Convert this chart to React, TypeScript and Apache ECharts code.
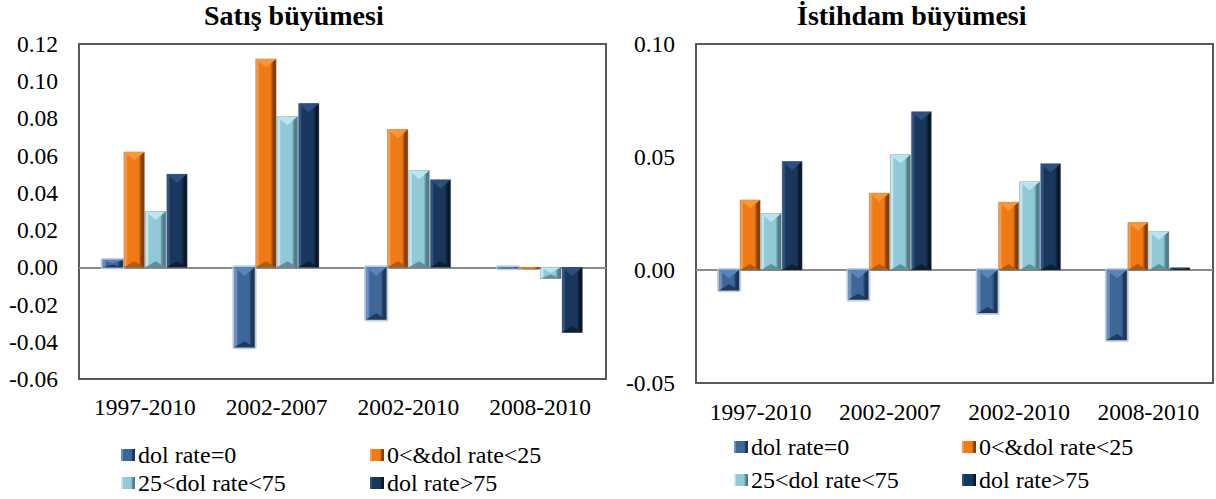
import React, { useEffect, useRef } from "react";
import * as echarts from "echarts";

// Period categories shared by both panels
const periods = ["1997-2010", "2002-2007", "2002-2010", "2008-2010"];

// Legend / series names
const groupNames = ["dol rate=0", "0<&dol rate<25", "25<dol rate<75", "dol rate>75"];

// Satış büyümesi (sales growth)
const salesRate0 = [0.004, -0.043, -0.028, -0.0005];
const salesRate0to25 = [0.062, 0.112, 0.074, -0.001];
const salesRate25to75 = [0.03, 0.081, 0.052, -0.006];
const salesRateOver75 = [0.05, 0.088, 0.047, -0.035];

// İstihdam büyümesi (employment growth)
const empRate0 = [-0.009, -0.013, -0.019, -0.031];
const empRate0to25 = [0.031, 0.034, 0.03, 0.021];
const empRate25to75 = [0.025, 0.051, 0.039, 0.017];
const empRateOver75 = [0.048, 0.07, 0.047, 0.001];

// Axis tick settings
const salesTicks = { min: -0.06, max: 0.12, interval: 0.02 };
const empTicks = { min: -0.05, max: 0.1, interval: 0.05 };

const FONT = "Liberation Serif, Times New Roman, serif";

// Bevel palette per series slot
const palette = [
  { base: "#3D6699", light: "#6C93C6", dark: "#1C3558", top: "#5A83B8", bottom: "#1F3A5E", glow: "rgba(176,202,234,0.85)" },
  { base: "#F07A14", light: "#FA9A45", dark: "#843F08", top: "#F8963A", bottom: "#B35A0C", glow: "" },
  { base: "#92C9D7", light: "#C4E9F2", dark: "#4E7E8B", top: "#B8E5EF", bottom: "#5E8F9B", glow: "" },
  { base: "#19375D", light: "#2F5383", dark: "#08182B", top: "#2D4F7D", bottom: "#0C1F36", glow: "" },
];

const GROUP_RATIO = 0.65;

function sideGradient(c: (typeof palette)[number]) {
  return new echarts.graphic.LinearGradient(0, 0, 1, 0, [
    { offset: 0, color: c.light },
    { offset: 0.1, color: c.light },
    { offset: 0.18, color: c.base },
    { offset: 0.72, color: c.base },
    { offset: 0.86, color: c.dark },
    { offset: 1, color: c.dark },
  ]);
}

function renderBevelBar(params: any, api: any) {
  const k = params.seriesIndex % 4;
  const c = palette[k];
  const cat = api.value(0);
  const val = api.value(1);
  const band = api.size([1, 0])[0];
  const slot = (band * GROUP_RATIO) / 4;
  const zero = api.coord([cat, 0]);
  const end = api.coord([cat, val]);
  const x = zero[0] - (slot * 4) / 2 + k * slot + 0.5;
  const w = slot - 1;
  const y = Math.min(zero[1], end[1]);
  const h = Math.max(Math.abs(end[1] - zero[1]), 1);
  const bevTop = Math.min(w * 0.42, h * 0.5);
  const bevBot = Math.min(w * 0.3, h * 0.35);

  const children: any[] = [];
  if (c.glow) {
    children.push({
      type: "rect",
      shape: { x: x - 2, y: y - 2, width: w + 4, height: h + 4, r: 2 },
      style: { fill: c.glow },
    });
  }
  children.push({
    type: "rect",
    shape: { x, y, width: w, height: h },
    style: {
      fill: sideGradient(c),
      stroke: "rgba(90,90,90,0.45)",
      lineWidth: 0.8,
    },
  });
  children.push({
    type: "polygon",
    shape: { points: [[x, y], [x + w, y], [x + w / 2, y + bevTop]] },
    style: { fill: c.top },
  });
  children.push({
    type: "polygon",
    shape: { points: [[x, y + h], [x + w, y + h], [x + w / 2, y + h - bevBot]] },
    style: { fill: c.bottom },
  });
  return { type: "group", children };
}

function zeroLineColors(t: { min: number; max: number; interval: number }) {
  const n = Math.round((t.max - t.min) / t.interval) + 1;
  const zi = Math.round((0 - t.min) / t.interval);
  return Array.from({ length: n }, (_, i) => (i === zi ? "#8C8C8C" : "rgba(0,0,0,0)"));
}

function valueAxis(gridIndex: number, t: { min: number; max: number; interval: number }) {
  return {
    type: "value",
    gridIndex,
    min: t.min,
    max: t.max,
    interval: t.interval,
    axisLine: { show: false },
    axisTick: { show: false },
    axisLabel: {
      formatter: (v: number) => v.toFixed(2),
      color: "#000",
      fontSize: 23.5,
      fontFamily: FONT,
      margin: 21,
    },
    splitLine: { show: true, lineStyle: { color: zeroLineColors(t), width: 2 } },
  };
}

function categoryAxis(gridIndex: number, margin: number) {
  return {
    type: "category",
    gridIndex,
    data: periods,
    axisLine: { show: false, onZero: false },
    axisTick: { show: false },
    axisLabel: { color: "#000", fontSize: 23.5, fontFamily: FONT, margin, interval: 0 },
    splitLine: { show: false },
  };
}

function barSeries(name: string, values: number[], axisIndex: number, k: number) {
  return {
    type: "custom",
    name,
    xAxisIndex: axisIndex,
    yAxisIndex: axisIndex,
    renderItem: renderBevelBar,
    encode: { x: 0, y: 1 },
    itemStyle: { color: sideGradient(palette[k]) },
    data: values.map((v, i) => [i, v]),
  };
}

function legendItem(name: string, left: number, top: number) {
  return {
    data: [name],
    left,
    top,
    padding: 0,
    icon: "rect",
    itemWidth: 14,
    itemHeight: 12,
    itemGap: 0,
    selectedMode: false,
    textStyle: { color: "#000", fontSize: 24, fontFamily: FONT, padding: [0, 0, 0, -2] },
  };
}

export default function App() {
  const ref = useRef<HTMLDivElement>(null);

  useEffect(() => {
    document.body.style.margin = "0";
    if (!ref.current) return;
    const chart = echarts.init(ref.current, null, { renderer: "svg" });

    const salesSets = [salesRate0, salesRate0to25, salesRate25to75, salesRateOver75];
    const empSets = [empRate0, empRate0to25, empRate25to75, empRateOver75];

    chart.setOption({
      animation: false,
      backgroundColor: "#fff",
      title: [
        {
          text: "Satış büyümesi",
          left: 204,
          top: 1,
          padding: 0,
          textStyle: { fontSize: 28, fontWeight: "bold", fontFamily: FONT, color: "#000" },
        },
        {
          text: "İstihdam büyümesi",
          left: 797,
          top: 1,
          padding: 0,
          textStyle: { fontSize: 28, fontWeight: "bold", fontFamily: FONT, color: "#000" },
        },
      ],
      grid: [
        { left: 79, top: 44, width: 527, height: 335, show: true, borderColor: "#595959", borderWidth: 2, backgroundColor: "transparent" },
        { left: 696, top: 44, width: 517, height: 339, show: true, borderColor: "#595959", borderWidth: 2, backgroundColor: "transparent" },
      ],
      xAxis: [categoryAxis(0, 16), categoryAxis(1, 17)],
      yAxis: [valueAxis(0, salesTicks), valueAxis(1, empTicks)],
      legend: [
        legendItem(groupNames[0], 121, 443),
        legendItem(groupNames[1], 370, 443),
        legendItem(groupNames[2], 121, 471),
        legendItem(groupNames[3], 370, 471),
        legendItem(groupNames[0], 734, 435),
        legendItem(groupNames[1], 962, 435),
        legendItem(groupNames[2], 734, 468),
        legendItem(groupNames[3], 962, 468),
      ],
      series: [
        ...salesSets.map((vals, k) => barSeries(groupNames[k], vals, 0, k)),
        ...empSets.map((vals, k) => barSeries(groupNames[k], vals, 1, k)),
      ],
    });

    return () => chart.dispose();
  }, []);

  return <div ref={ref} style={{ width: 1216, height: 499 }} />;
}
